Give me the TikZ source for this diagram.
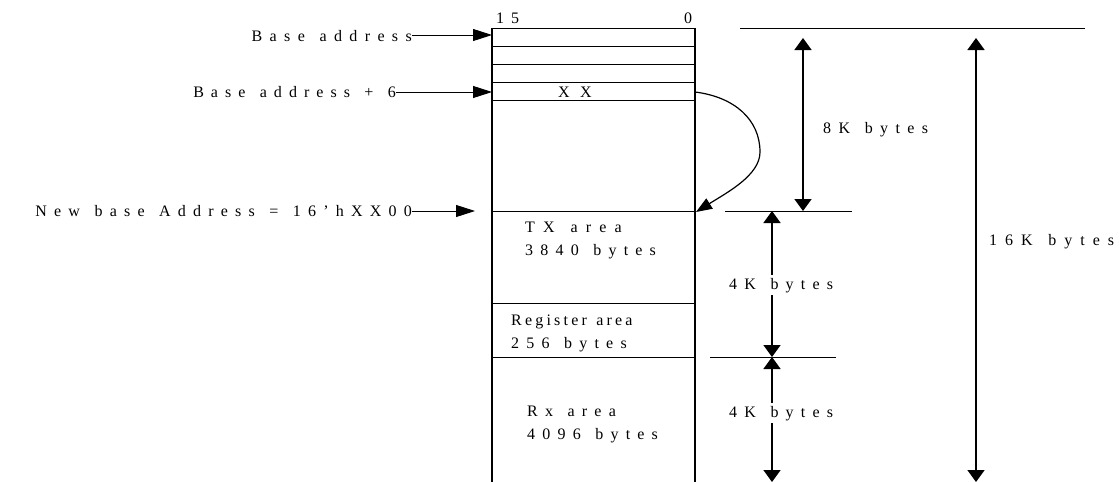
\documentclass[tikz,border=0pt]{standalone}
\usepackage{fontspec}
\setmainfont{Liberation Serif}[LetterSpace=45,WordSpace=1.3]
\usetikzlibrary{arrows.meta}
\newcommand\lblfont{\fontsize{16}{23}\selectfont}
\newcommand\lsfont[1]{\fontsize{16}{23}\selectfont\addfontfeature{LetterSpace=#1}}
\tikzset{
  lbl/.style={inner sep=0pt, font={\lblfont}, align=left},
  ls/.style={font={\lsfont{#1}}},
  htip/.style={-{Triangle[length=19pt,width=12pt]}},
  ctip/.style={-{Triangle[length=16pt,width=12pt]}},
  vtip/.style={{Triangle[length=12pt,width=17pt]}-{Triangle[length=12pt,width=17pt]}},
  edge/.style={line width=1.6pt},
  thin/.style={line width=0.9pt},
  hconn/.style={line width=0.9pt},
  vconn/.style={line width=1.6pt},
  cconn/.style={line width=1.2pt},
}
\begin{document}
\begin{tikzpicture}[x=1pt,y=-1pt]
\useasboundingbox (0,0) rectangle (1120,482);
% box
\draw[edge] (492,28) -- (492,482);
\draw[edge] (695,28) -- (695,482);
\foreach \yy in {28,46,64,82,100,211,303,357} \draw[thin] (492,\yy) -- (695,\yy);
% coordinates on box
\coordinate (b0) at (492,35);
\coordinate (b6) at (492,92);
\coordinate (nb) at (475,211);
\coordinate (xxr) at (695,92);
\coordinate (nbr) at (696,212);
% bit labels
\node[lbl, ls=44, anchor=base west] (b15) at (496,23) {15};
\node[lbl, anchor=base west] (bz) at (684,23) {0};
\node[lbl, ls=65, anchor=base west] (xx) at (558,97) {XX};
% left labels
\node[lbl, ls=46, anchor=base east] (lba) at (412,41) {Base address};
\node[lbl, ls=44, anchor=base east] (lb6) at (396,97) {Base address + 6};
\node[lbl, ls=45, anchor=base east] (lnb) at (412,216) {New base Address = 16'hXX00};
\draw[hconn,htip] (lba.east |- b0) -- (b0);
\draw[hconn,htip] (lb6.east |- b6) -- (b6);
\draw[hconn,htip] (lnb.east |- nb) -- (nb);
% curved arrow
\draw[cconn,ctip] (xxr) .. controls (735,97) and (760,120) .. (760,152)
  .. controls (760,175) and (728,192) .. (nbr);
% area labels
\node[lbl, anchor=base west] (tx) at (525,255) {{\lsfont{51}TX area}\\3840 bytes};
\node[lbl, anchor=base west] (reg) at (511,348) {{\lsfont{20}Register area}\\256 bytes};
\node[lbl, anchor=base west] (rx) at (527,439) {Rx area\\4096 bytes};
% right dimension lines
\coordinate (t1) at (740,28); \coordinate (t2) at (1085,28);
\coordinate (m1) at (725,211); \coordinate (m2) at (852,211);
\coordinate (r1) at (710,357); \coordinate (r2) at (836,357);
\draw[thin] (t1) -- (t2);
\draw[thin] (m1) -- (m2);
\draw[thin] (r1) -- (r2);
\coordinate (a8t) at (803,38); \coordinate (a8b) at (803,211);
\coordinate (a4t) at (772,211); \coordinate (a4m) at (772,357); \coordinate (a4b) at (772,482);
\coordinate (a16t) at (976,38); \coordinate (a16b) at (976,482);
\draw[vconn,vtip] (a8t) -- (a8b);
\draw[vconn,vtip] (a4t) -- (a4m);
\draw[vconn,vtip] (a4m) -- (a4b);
\draw[vconn,vtip] (a16t) -- (a16b);
\node[lbl, ls=46, anchor=base west] (k8) at (823,133) {8K bytes};
\node[lbl, ls=45, anchor=base west, fill=white, inner sep=3pt] (k4a) at (726,289) {4K bytes};
\node[lbl, ls=45, anchor=base west, fill=white, inner sep=3pt] (k4b) at (726,417) {4K bytes};
\node[lbl, ls=50, anchor=base west] (k16) at (989,245) {16K bytes};
\end{tikzpicture}
\end{document}
